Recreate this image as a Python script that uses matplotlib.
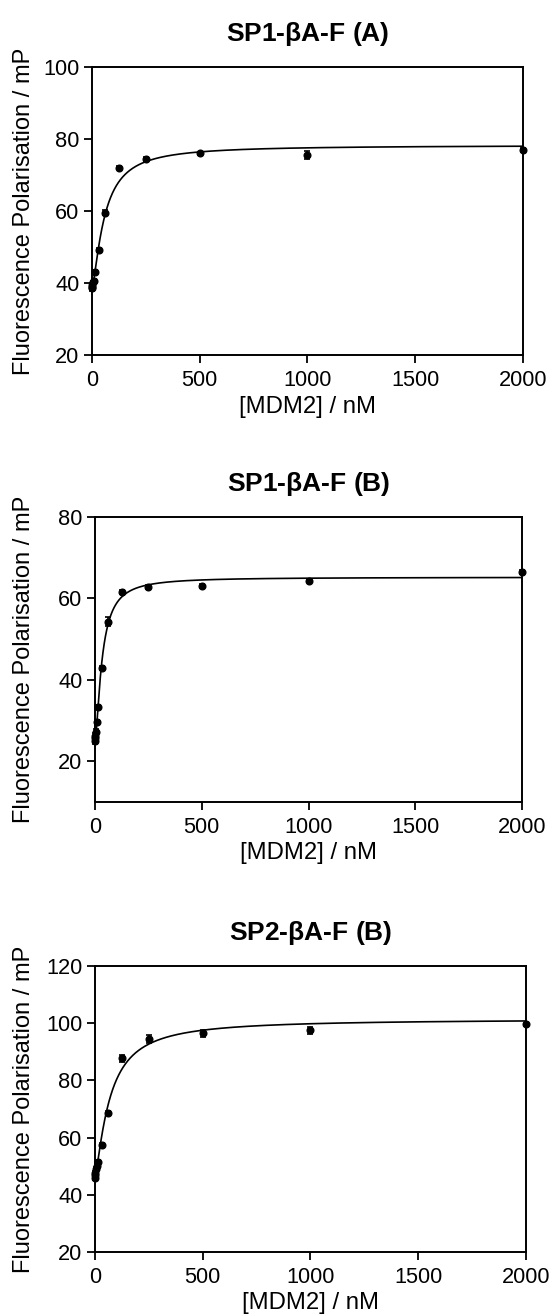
import numpy as np
import matplotlib.pyplot as plt

plt.rcParams['font.family'] = ['Liberation Sans', 'DejaVu Sans']

# MDM2 concentrations (nM), 2-fold dilution series
conc = [0.49, 0.98, 1.95, 3.91, 7.81, 15.63, 31.25, 62.5, 125, 250, 500, 1000, 2000]

# SP1-bA-F (A)
fp_a = [38.5, 39.0, 39.6, 40.2, 40.5, 43.1, 49.2, 59.6, 72.0, 74.5, 76.1, 75.7, 77.0]
err_a = [0.6, 0.5, 0.5, 0.5, 0.5, 0.5, 0.5, 0.6, 0.4, 0.5, 0.4, 1.1, 0.5]
fit_a = (38.5, 78.3, 58.0, 1.4)  # bottom, top, K, hill

# SP1-bA-F (B)
fp_b = [25.0, 25.6, 26.3, 27.2, 29.6, 33.4, 42.9, 54.3, 61.5, 62.7, 63.1, 64.3, 66.5]
err_b = [0.7, 0.6, 0.6, 0.6, 0.5, 0.5, 0.5, 1.2, 0.5, 0.5, 0.5, 0.4, 0.4]
fit_b = (24.5, 65.2, 33.0, 1.5)

# SP2-bA-F (B)
fp_c = [46.0, 46.8, 47.8, 49.0, 50.2, 51.6, 57.4, 68.7, 87.7, 94.5, 96.5, 97.6, 99.6]
err_c = [0.8, 0.7, 0.7, 0.7, 0.6, 0.6, 0.6, 0.6, 1.2, 1.3, 1.2, 1.2, 0.5]
fit_c = (46.0, 101.5, 69.0, 1.3)

titles = ['SP1-$\\mathregular{\\beta}$A-F (A)', 'SP1-$\\mathregular{\\beta}$A-F (B)',
          'SP2-$\\mathregular{\\beta}$A-F (B)']
ylims = [(20, 100), (10, 80), (20, 120)]
yticks = [[20, 40, 60, 80, 100], [20, 40, 60, 80], [20, 40, 60, 80, 100, 120]]
xticks = [0, 500, 1000, 1500, 2000]

# axes rectangles [left, bottom, width, height] in figure fraction
rects = [[0.167, 0.7302, 0.782, 0.2188],
         [0.1724, 0.3906, 0.7750, 0.2166],
         [0.1724, 0.0486, 0.7822, 0.2173]]

fig = plt.figure(figsize=(5.51, 13.16), dpi=100)

xs = np.linspace(0, 2000, 2000)
for i, (fp, err, fit) in enumerate([(fp_a, err_a, fit_a), (fp_b, err_b, fit_b), (fp_c, err_c, fit_c)]):
    ax = fig.add_axes(rects[i])
    bottom, top, k, h = fit
    curve = bottom + (top - bottom) * xs**h / (k**h + xs**h)
    ax.plot(xs, curve, color='black', linewidth=1.2)
    ax.errorbar(conc, fp, yerr=err, fmt='o', color='black', markersize=4.8,
                elinewidth=1.2, capsize=2.5, capthick=1.2, clip_on=False, zorder=3)
    ax.set_xlim(0, 2000)
    ax.set_ylim(*ylims[i])
    ax.set_xticks(xticks)
    ax.set_yticks(yticks[i])
    ax.tick_params(direction='out', length=6, width=1.3, labelsize=15.7, pad=3,
                   colors='black')
    ax.tick_params(axis='x', pad=5)
    for s in ax.spines.values():
        s.set_linewidth(1.4)
    ax.set_title(titles[i], fontsize=19, fontweight='bold', pad=19)
    ax.set_xlabel('[MDM2] / nM', fontsize=17.2, labelpad=3)
    ax.set_ylabel('Fluorescence Polarisation / mP', fontsize=17)
    left_px = rects[i][0] * 551
    width_px = rects[i][2] * 551
    ax.yaxis.set_label_coords((35 - left_px) / width_px, 0.5)

fig.savefig('out.png', dpi=100)
